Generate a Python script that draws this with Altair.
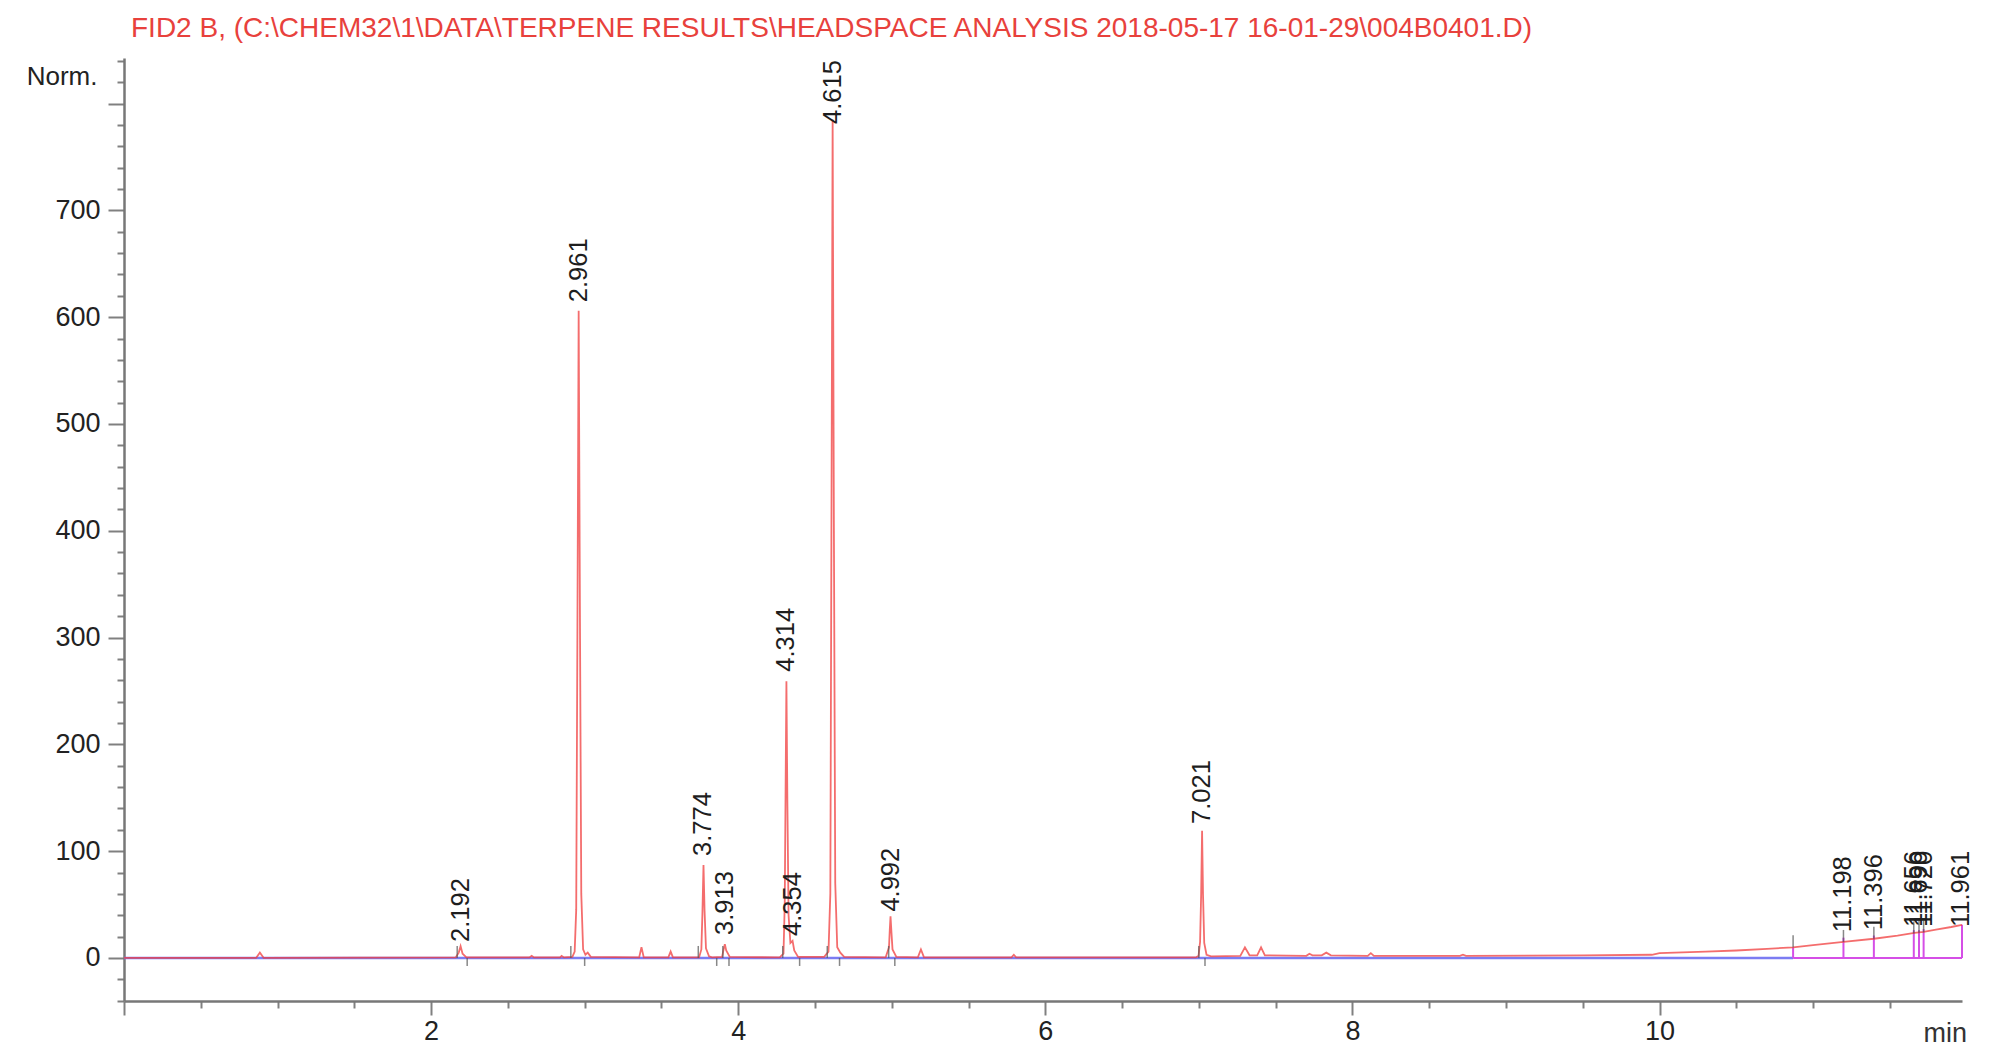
import altair as alt
import pandas as pd

TITLE = r"FID2 B,  (C:\CHEM32\1\DATA\TERPENE RESULTS\HEADSPACE ANALYSIS 2018-05-17 16-01-29\004B0401.D)"
FONT = "Liberation Sans"

# ---- signal trace (min, Norm.) ----
trace_time = [
    0.00, 0.86, 0.885, 0.91,
    2.16, 2.18, 2.192, 2.205, 2.23,
    2.64, 2.655, 2.67, 2.84, 2.85, 2.865,
    2.92, 2.935, 2.945, 2.953, 2.961, 2.969, 2.978, 2.99, 3.005, 3.02, 3.04,
    3.355, 3.37, 3.385, 3.545, 3.56, 3.575,
    3.745, 3.760, 3.767, 3.774, 3.781, 3.79, 3.81, 3.83,
    3.895, 3.905, 3.913, 3.922, 3.945,
    4.27, 4.295, 4.303, 4.309, 4.314, 4.320, 4.328, 4.34, 4.354, 4.365, 4.39,
    4.56, 4.588, 4.600, 4.607, 4.615, 4.623, 4.632, 4.645, 4.665, 4.69,
    4.96, 4.982, 4.987, 4.992, 4.998, 5.005, 5.03,
    5.17, 5.19, 5.21, 5.78, 5.795, 5.81,
    6.98, 6.998, 7.008, 7.015, 7.021, 7.027, 7.035, 7.05, 7.08,
    7.27, 7.30, 7.33, 7.38, 7.405, 7.43,
    7.70, 7.72, 7.74, 7.80, 7.83, 7.86,
    8.10, 8.12, 8.14, 8.70, 8.72, 8.74,
    9.50, 9.95, 10.0, 10.3, 10.5, 10.7, 10.87, 11.0,
    11.198, 11.396, 11.55, 11.66, 11.72, 11.80, 11.90, 11.97,
]
trace_signal = [
    0, 0, 5, 0,
    0.5, 5, 11, 4, 0.5,
    0.5, 2, 0.5, 0.5, 2, 0.5,
    1, 6, 45, 310, 606, 330, 60, 8, 3, 5, 1,
    0.5, 10, 0.5, 0.5, 6, 0.5,
    0.5, 8, 42, 87, 44, 9, 1.5, 0.5,
    1, 8, 13, 7, 1,
    0.5, 4, 50, 165, 259, 150, 40, 14, 16, 7, 1,
    1, 6, 60, 390, 785, 410, 70, 10, 5, 1,
    0.5, 10, 26, 39, 24, 8, 1,
    0.5, 8, 0.5, 0.5, 3, 0.5,
    0.5, 2, 15, 60, 119, 60, 14, 3, 1.5,
    2, 10, 2.5, 2.5, 10, 2.5,
    2, 4, 2.5, 2.5, 5, 2.5,
    2, 4.5, 2, 2, 3, 2,
    2.5, 3, 4.5, 6, 7, 8.5, 10, 12,
    15, 18, 21, 23.5, 24.5, 26.5, 29, 31,
]

# ---- labelled peaks: retention time and where its label starts ----
peak_rt = [2.192, 2.961, 3.774, 3.913, 4.314, 4.354, 4.615, 4.992, 7.021,
           11.198, 11.396, 11.656, 11.690, 11.720, 11.961]
peak_label_start = [15, 614, 95.5, 21.5, 268, 20.6, 781, 43.4, 125.5,
                    24, 26, 29, 29, 29, 29]

# ---- integration events ----
start_event_time = [2.17, 2.91, 3.74, 3.90, 4.29, 4.58, 4.98, 7.00, 10.87,
                    11.198, 11.396, 11.656, 11.690, 11.720]
start_event_level = [0, 0, 0, 0, 0, 0, 0, 0, 10, 15, 18, 23, 23.5, 24]
end_event_time = [2.235, 3.00, 3.86, 3.94, 4.40, 4.66, 5.02, 7.04]

blue_baseline_from = [0.0]
blue_baseline_to = [10.87]
drop_time = [10.87, 11.198, 11.396, 11.656, 11.690, 11.720, 11.97]
drop_top = [10, 19, 21, 26, 26, 27, 31]
drop_baseline_from = [10.87]
drop_baseline_to = [11.97]

x_tick_values = [0, 0.5, 1, 1.5, 2, 2.5, 3, 3.5, 4, 4.5, 5, 5.5, 6, 6.5, 7,
                 7.5, 8, 8.5, 9, 9.5, 10, 10.5, 11, 11.5]
y_tick_values = list(range(-40, 841, 20))

X_DOMAIN = [0, 11.97]
Y_DOMAIN = [-40.3, 842.7]

trace_df = pd.DataFrame({"t": trace_time, "v": trace_signal})
label_df = pd.DataFrame({"t": peak_rt, "v": peak_label_start,
                         "lab": [f"{r:.3f}" for r in peak_rt]})
start_df = pd.DataFrame({"t": start_event_time, "v": start_event_level})
end_df = pd.DataFrame({"t": end_event_time, "v": [0] * len(end_event_time)})
blue_df = pd.DataFrame({"t": blue_baseline_from, "t2": blue_baseline_to, "v": [0]})
mag_df = pd.DataFrame({"t": drop_baseline_from, "t2": drop_baseline_to, "v": [0]})
drop_df = pd.DataFrame({"t": drop_time, "v2": drop_top, "v": [0] * len(drop_time)})

xscale = alt.Scale(domain=X_DOMAIN, nice=False, zero=False)
yscale = alt.Scale(domain=Y_DOMAIN, nice=False, zero=False)

x_axis = alt.Axis(
    values=x_tick_values,
    labelExpr="datum.value % 2 === 0 && datum.value > 0 ? format(datum.value, 'd') : ''",
    tickSize={"condition": {"test": "datum.value % 2 === 0", "value": 14}, "value": 7},
    labelPadding=3, labelOverlap=False, labelFlush=False,
    grid=False, domainColor="#777777", domainWidth=2.5,
    tickColor="#808080", tickWidth=2,
    labelFont=FONT, labelFontSize=27, labelColor="#222222",
    title="min", titleFont=FONT, titleFontSize=27, titleFontWeight="normal",
    titleColor="#333333", titleAlign="left", titleBaseline="middle",
    titleAnchor="start", titleX=1799, titleY=32,
)
y_axis = alt.Axis(
    values=y_tick_values,
    labelExpr="datum.value % 100 === 0 && datum.value >= 0 && datum.value <= 700 ? datum.label : ''",
    tickSize={"condition": {"test": "datum.value % 100 === 0", "value": 16}, "value": 7},
    labelPadding=8, labelOverlap=False, labelFlush=False,
    grid=False, domainColor="#777777", domainWidth=2.5,
    tickColor="#808080", tickWidth=2,
    labelFont=FONT, labelFontSize=27, labelColor="#222222",
    title="Norm.", titleFont=FONT, titleFontSize=26, titleFontWeight="normal",
    titleColor="#222222", titleAngle=0, titleAlign="right", titleBaseline="middle",
    titleAnchor="start", titleX=-27, titleY=18,
)

X = alt.X("t:Q", scale=xscale, axis=x_axis)
Y = alt.Y("v:Q", scale=yscale, axis=y_axis)

blue = alt.Chart(blue_df).mark_rule(color="#7c7cf2", strokeWidth=2.5).encode(
    x=X, x2="t2:Q", y=Y)
mag = alt.Chart(mag_df).mark_rule(color="#d54fe6", strokeWidth=2).encode(
    x=X, x2="t2:Q", y=Y)
drops = alt.Chart(drop_df).mark_rule(color="#d54fe6", strokeWidth=2).encode(
    x=X, y=Y, y2="v2:Q")

trace = alt.Chart(trace_df).mark_line(color="#f03c3c", strokeWidth=1.8, opacity=0.75).encode(
    x=X, y=Y, order="t:Q")

starts = alt.Chart(start_df).mark_tick(orient="vertical", size=12, thickness=1.5,
                                       yOffset=-6, color="#555555").encode(x=X, y=Y)
ends = alt.Chart(end_df).mark_tick(orient="vertical", size=8, thickness=1.5,
                                   yOffset=4, color="#555555").encode(x=X, y=Y)

labels = alt.Chart(label_df).mark_text(angle=270, align="left", baseline="middle",
                                       font=FONT, fontSize=25.5, color="#1e1e1e").encode(
    x=X, y=Y, text="lab:N")

chart = alt.layer(blue, mag, drops, trace, starts, ends, labels).properties(
    width=1838, height=943,
    autosize=alt.AutoSizeParams(type="none"),
    padding={"left": 116, "top": 50, "right": 24, "bottom": 44},
    title=alt.TitleParams(TITLE, anchor="start", frame="group", dx=7, fontSize=28,
                          font=FONT, fontWeight="normal", color="#e8413c",
                          baseline="alphabetic", offset=-18),
    background="white",
).configure_view(stroke=None)

chart.save("out.html", embed_options={"renderer": "svg", "actions": False})
